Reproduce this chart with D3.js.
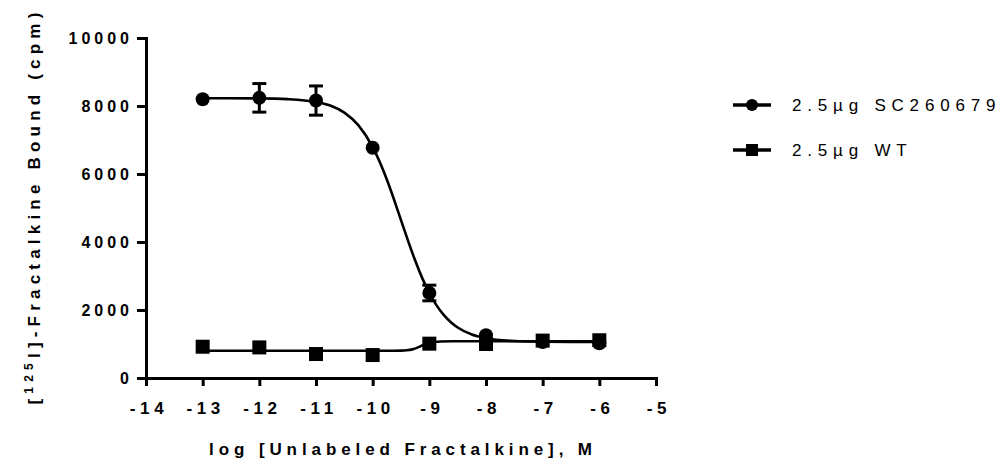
<!DOCTYPE html>
<html>
<head>
<meta charset="utf-8">
<script src="https://cdn.jsdelivr.net/npm/d3@7"></script>
<style>
    body { margin: 0; background: #fff; }
    svg { display: block; font-family: "Liberation Sans", Arial, sans-serif; }
</style>
</head>
<body>
<div id="chart"></div>
<script>
// Measured points (log M vs cpm), mean and error
const logConc = [-13, -12, -11, -10, -9, -8, -7, -6];
const scMean = [8200, 8240, 8160, 6770, 2500, 1260, 1060, 1020];
const scErr = [0, 420, 430, 0, 230, 0, 0, 0];
const wtMean = [920, 900, 705, 675, 1010, 1000, 1100, 1110];
const wtErr = [0, 0, 0, 0, 0, 80, 0, 0];

// Fitted curves
const scFitX = [-13, -12, -11.5, -11, -10.75, -10.5, -10.25, -10, -9.875, -9.75, -9.625, -9.5, -9.375, -9.25, -9.125, -9, -8.875, -8.75, -8.625, -8.5, -8.25, -8, -7.5, -7, -6.5, -6];
const scFitY = [8230, 8223, 8201, 8118, 8013, 7804, 7428, 6790, 6352, 5837, 5258, 4645, 4032, 3454, 2938, 2500, 2143, 1862, 1647, 1485, 1280, 1172, 1088, 1067, 1062, 1060];
const wtFitX = [-13, -12, -11, -10, -9.75, -9.5, -9.4, -9.3, -9.2, -9.1, -9, -8.9, -8.8, -8.6, -8, -7, -6];
const wtFitY = [800, 800, 800, 800, 800, 805, 815, 842, 901, 979, 1038, 1065, 1075, 1080, 1080, 1080, 1080];

const xTicks = [-14, -13, -12, -11, -10, -9, -8, -7, -6, -5];
const yTicks = [0, 2000, 4000, 6000, 8000, 10000];
const seriesNames = ["2.5\u00b5g SC260679", "2.5\u00b5g WT"];

function drawChart(selector)
{
    // Set dimensions and margins
    var margin = { top: 38, right: 350, bottom: 80, left: 146 },
        width = 1006 - margin.left - margin.right,
        height = 458 - margin.top - margin.bottom;

    var svg = d3.select(selector)
        .append("svg")
        .attr("width", 1006)
        .attr("height", 458)
        .append("g")
        .attr("transform", "translate(" + margin.left + "," + margin.top + ")");

    // Define scales
    var x = d3.scaleLinear()
        .domain([-14, -5])
        .range([0, width]);

    var y = d3.scaleLinear()
        .domain([0, 10000])
        .range([height, 0]);

    // Add X axis (plain hyphen minus, like the original)
    var gx = svg.append("g")
        .attr("transform", "translate(0," + height + ")")
        .call(d3.axisBottom(x).tickValues(xTicks).tickFormat(d => String(d)).tickSize(8).tickSizeOuter(0).tickPadding(16));
    gx.selectAll("text")
        .attr("dx", "2.5px")
        .style("font-size", "17px")
        .style("font-weight", "bold")
        .style("letter-spacing", "4.6px")
        .style("fill", "#000");

    // Add Y axis
    var gy = svg.append("g")
        .call(d3.axisLeft(y).tickValues(yTicks).tickFormat(d => String(d)).tickSize(9).tickSizeOuter(0).tickPadding(8));
    gy.selectAll("text")
        .attr("dx", "4px")
        .style("font-size", "16px")
        .style("font-weight", "bold")
        .style("letter-spacing", "4px")
        .style("fill", "#000");

    [gx, gy].forEach(g => {
        g.select(".domain").attr("stroke", "#000").attr("stroke-width", 3).attr("stroke-linecap", "square");
        g.selectAll(".tick line").attr("stroke", "#000").attr("stroke-width", 3);
    });

    // Add X axis label
    svg.append("text")
        .attr("x", width / 2 + 2)
        .attr("y", height + 77)
        .style("text-anchor", "middle")
        .style("font-size", "17px")
        .style("font-weight", "bold")
        .style("letter-spacing", "4.9px")
        .text("log [Unlabeled Fractalkine], M");

    // Add Y axis label
    var yl = svg.append("text")
        .attr("transform", "rotate(-90)")
        .attr("x", -height / 2 + 2)
        .attr("y", -margin.left + 40)
        .style("text-anchor", "middle")
        .style("font-size", "17px")
        .style("font-weight", "bold")
        .style("letter-spacing", "5.2px");
    yl.append("tspan").text("[");
    yl.append("tspan").attr("dy", "-7").style("font-size", "12px").text("125");
    yl.append("tspan").attr("dy", "7").text("I]-Fractalkine Bound (cpm)");

    var line = d3.line()
        .x(d => x(d[0]))
        .y(d => y(d[1]))
        .curve(d3.curveMonotoneX);

    // Fitted curves
    svg.append("path")
        .datum(scFitX.map((v, i) => [v, scFitY[i]]))
        .attr("fill", "none")
        .attr("stroke", "#000")
        .attr("stroke-width", 2.6)
        .attr("d", line);

    svg.append("path")
        .datum(wtFitX.map((v, i) => [v, wtFitY[i]]))
        .attr("fill", "none")
        .attr("stroke", "#000")
        .attr("stroke-width", 2.6)
        .attr("d", line);

    // Error bars
    function errorBars(means, errs)
    {
        var data = logConc.map((c, i) => ({ x: c, y: means[i], e: errs[i] })).filter(d => d.e > 0);
        var g = svg.append("g").attr("stroke", "#000").attr("stroke-width", 3);
        data.forEach(d => {
            g.append("line").attr("x1", x(d.x)).attr("x2", x(d.x)).attr("y1", y(d.y - d.e)).attr("y2", y(d.y + d.e));
            g.append("line").attr("x1", x(d.x) - 7).attr("x2", x(d.x) + 7).attr("y1", y(d.y - d.e)).attr("y2", y(d.y - d.e));
            g.append("line").attr("x1", x(d.x) - 7).attr("x2", x(d.x) + 7).attr("y1", y(d.y + d.e)).attr("y2", y(d.y + d.e));
        });
    }
    errorBars(scMean, scErr);
    errorBars(wtMean, wtErr);

    // Points
    svg.append("g")
        .selectAll("circle")
        .data(logConc.map((c, i) => [c, scMean[i]]))
        .join("circle")
        .attr("cx", d => x(d[0]))
        .attr("cy", d => y(d[1]))
        .attr("r", 7)
        .attr("fill", "#000");

    svg.append("g")
        .selectAll("rect")
        .data(logConc.map((c, i) => [c, wtMean[i]]))
        .join("rect")
        .attr("x", d => x(d[0]) - 7)
        .attr("y", d => y(d[1]) - 7)
        .attr("width", 14)
        .attr("height", 14)
        .attr("fill", "#000");

    // Legend
    var legend = svg.append("g")
        .attr("transform", "translate(" + (733 - margin.left) + "," + (105 - margin.top) + ")");
    seriesNames.forEach((name, i) => {
        var row = legend.append("g").attr("transform", "translate(0," + (i * 45) + ")");
        row.append("line")
            .attr("x1", 0).attr("x2", 38)
            .attr("stroke", "#000")
            .attr("stroke-width", 3.5);
        if (i == 0)
            row.append("circle").attr("cx", 19).attr("r", 6).attr("fill", "#000");
        else
            row.append("rect").attr("x", 13).attr("y", -6).attr("width", 12).attr("height", 12).attr("fill", "#000");
        row.append("text")
            .attr("x", 59)
            .attr("y", 6)
            .style("font-size", "17px")
            .style("letter-spacing", "5.8px")
            .text(name);
    });
}

drawChart("#chart");
</script>
</body>
</html>
